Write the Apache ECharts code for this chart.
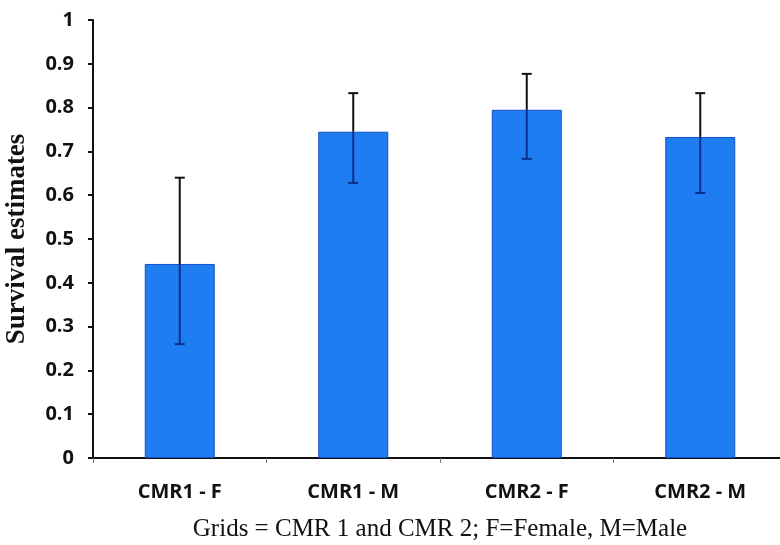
<!DOCTYPE html>
<html>
<head>
<meta charset="utf-8">
<script src="https://cdn.jsdelivr.net/npm/echarts@6/dist/echarts.min.js"></script>
<style>
  html, body { margin: 0; padding: 0; background: #fff; }
  #chart { width: 780px; height: 545px; }
</style>
</head>
<body>
<div id="chart"></div>
<script>
// Survival estimates by grid and sex, with confidence bounds
const categories = ['CMR1 - F', 'CMR1 - M', 'CMR2 - F', 'CMR2 - M'];
const estimates  = [0.443, 0.745, 0.795, 0.733];
const upperBound = [0.640, 0.833, 0.877, 0.833];
const lowerBound = [0.260, 0.628, 0.683, 0.605];
const yTicks     = [0, 0.1, 0.2, 0.3, 0.4, 0.5, 0.6, 0.7, 0.8, 0.9, 1];

const chart = echarts.init(document.getElementById('chart'));

const errorData = categories.map((c, i) => [i, lowerBound[i], upperBound[i], estimates[i]]);

// Whisker: black above the bar top, dark blue where it overlaps the bar
function renderError(params, api) {
  const x = api.value(0);
  const lo = api.coord([x, api.value(1)]);
  const hi = api.coord([x, api.value(2)]);
  const top = api.coord([x, api.value(3)]);
  const cap = 5;
  const black = { stroke: '#111', lineWidth: 2 };
  const navy = { stroke: '#0b2f8f', lineWidth: 2 };
  return {
    type: 'group',
    children: [
      { type: 'line', shape: { x1: hi[0], y1: hi[1], x2: top[0], y2: top[1] }, style: black },
      { type: 'line', shape: { x1: hi[0] - cap, y1: hi[1], x2: hi[0] + cap, y2: hi[1] }, style: black },
      { type: 'line', shape: { x1: top[0], y1: top[1], x2: lo[0], y2: lo[1] }, style: navy },
      { type: 'line', shape: { x1: lo[0] - cap, y1: lo[1], x2: lo[0] + cap, y2: lo[1] }, style: navy }
    ]
  };
}

chart.setOption({
  animation: false,
  backgroundColor: '#ffffff',
  grid: { left: 93, right: -7, top: 20, bottom: 87, outerBoundsMode: 'none', containLabel: false },
  xAxis: {
    type: 'category',
    data: categories,
    name: 'Grids = CMR 1 and CMR 2; F=Female, M=Male',
    nameLocation: 'middle',
    nameGap: 59,
    nameTextStyle: { fontFamily: 'Liberation Serif', fontSize: 25, color: '#111' },
    axisLine: { lineStyle: { color: '#111', width: 2 } },
    axisTick: { show: true, length: 5, lineStyle: { color: '#777', width: 1 } },
    axisLabel: { margin: 24, fontFamily: 'Open Sans', fontWeight: 'bold', fontSize: 20, color: '#111' }
  },
  yAxis: {
    type: 'value',
    min: yTicks[0],
    max: yTicks[yTicks.length - 1],
    interval: 0.1,
    name: 'Survival estimates',
    nameLocation: 'middle',
    nameGap: 62,
    nameTextStyle: { fontFamily: 'Liberation Serif', fontWeight: 'bold', fontSize: 27, color: '#111' },
    axisLine: { show: true, lineStyle: { color: '#111', width: 2 } },
    axisTick: { show: true, length: 5, lineStyle: { color: '#111', width: 2 } },
    splitLine: { show: false },
    axisLabel: {
      margin: 19,
      fontFamily: 'Open Sans', fontWeight: 'bold', fontSize: 20, color: '#111',
      formatter: v => String(Math.round(v * 10) / 10)
    }
  },
  series: [
    {
      type: 'bar',
      data: estimates,
      barWidth: 70,
      itemStyle: { color: '#1f7df2', borderColor: '#1450c4', borderWidth: 1 }
    },
    {
      type: 'custom',
      data: errorData,
      renderItem: renderError,
      encode: { x: 0, y: [1, 2] },
      z: 10
    }
  ]
});
</script>
</body>
</html>
